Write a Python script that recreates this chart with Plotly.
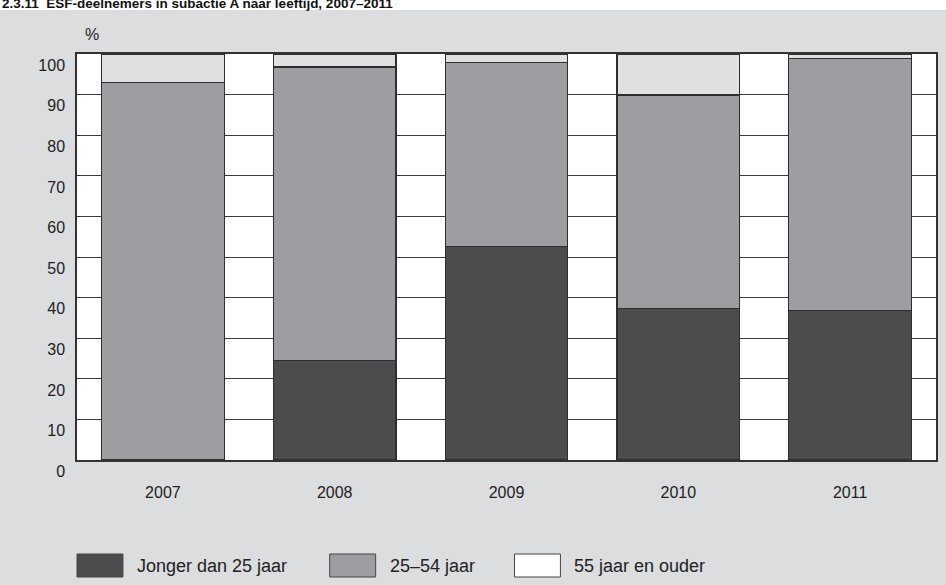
import plotly.graph_objects as go

years = ["2007", "2008", "2009", "2010", "2011"]
series_names = ["Jonger dan 25 jaar", "25\u201354 jaar", "55 jaar en ouder"]
jonger = [0.0, 24.6, 52.5, 37.3, 36.9]
midden = [93.0, 72.2, 45.4, 52.6, 62.0]
ouder = [7.0, 3.2, 2.1, 10.1, 1.1]
y_ticks = [0, 10, 20, 30, 40, 50, 60, 70, 80, 90, 100]
title_text = "2.3.11  ESF-deelnemers in subactie A naar leeftijd, 2007\u20132011"

colors = ["#4b4c4e", "#9d9ea1", "#dfe0e2"]
bg = "#dcdddf"
font_family = "Liberation Sans, Arial, sans-serif"

fig = go.Figure()
for name, vals, col in zip(series_names, [jonger, midden, ouder], colors):
    fig.add_trace(go.Bar(
        x=years, y=vals, name=name,
        marker=dict(color=col,
                    line=dict(color="#2e2e2e",
                              width=[0 if v == 0 else 1.2 for v in vals])),
        showlegend=False,
    ))

fig.update_layout(
    barmode="stack",
    bargap=0.287,
    width=946, height=585,
    margin=dict(l=77, r=8, t=54, b=125),
    paper_bgcolor=bg,
    plot_bgcolor="white",
    font=dict(family=font_family, size=16, color="#222222"),
    xaxis=dict(
        showline=True, mirror=True, linecolor="#333333", linewidth=1.5,
        showgrid=False, ticks="", ticklabelstandoff=17,
        tickfont=dict(size=16),
    ),
    yaxis=dict(
        range=[0, 100], tickvals=y_ticks,
        showline=True, mirror=True, linecolor="#333333", linewidth=1.5,
        showgrid=True, gridcolor="#3a3a3a", gridwidth=1,
        zeroline=False, ticks="", ticklabelstandoff=7,
        ticklabelposition="outside bottom",
        tickfont=dict(size=16),
    ),
    shapes=[
        dict(type="rect", xref="paper", yref="paper", x0=-0.2, x1=1.2,
             y0=(460 - 10) / 406, y1=1.3, fillcolor="white",
             line=dict(width=0), layer="below"),
    ],
)

# title (partially cut at the top edge)
fig.add_annotation(xref="paper", yref="paper", x=(0 - 77) / 860, y=(460 - 13) / 406,
                   xanchor="left", yanchor="bottom", showarrow=False,
                   text="<b>" + title_text + "</b>",
                   font=dict(size=13.5, color="#111111"))
# % label
fig.add_annotation(xref="paper", yref="paper", x=(83 - 77) / 860, y=(460 - 35) / 406,
                   xanchor="left", yanchor="middle", showarrow=False,
                   text="%", font=dict(size=16, color="#222222"))

# custom legend
sw_left = [77, 330, 515]
for i, (name, col) in enumerate(zip(series_names, colors)):
    x0 = sw_left[i]
    fig.add_shape(type="rect", xref="paper", yref="paper",
                  x0=(x0 - 77) / 860, x1=(x0 + 46 - 77) / 860,
                  y0=(460 - 577) / 406, y1=(460 - 554) / 406,
                  fillcolor=col if i < 2 else "white",
                  line=dict(color="#444444", width=1))
    fig.add_annotation(xref="paper", yref="paper", x=(x0 + 58 - 77) / 860,
                       y=(460 - 566) / 406, xanchor="left", yanchor="middle",
                       showarrow=False, text=name, font=dict(size=18, color="#222222"))

fig.write_html("out.html", config={"displayModeBar": False},
               post_script="document.body.style.margin='0';")
